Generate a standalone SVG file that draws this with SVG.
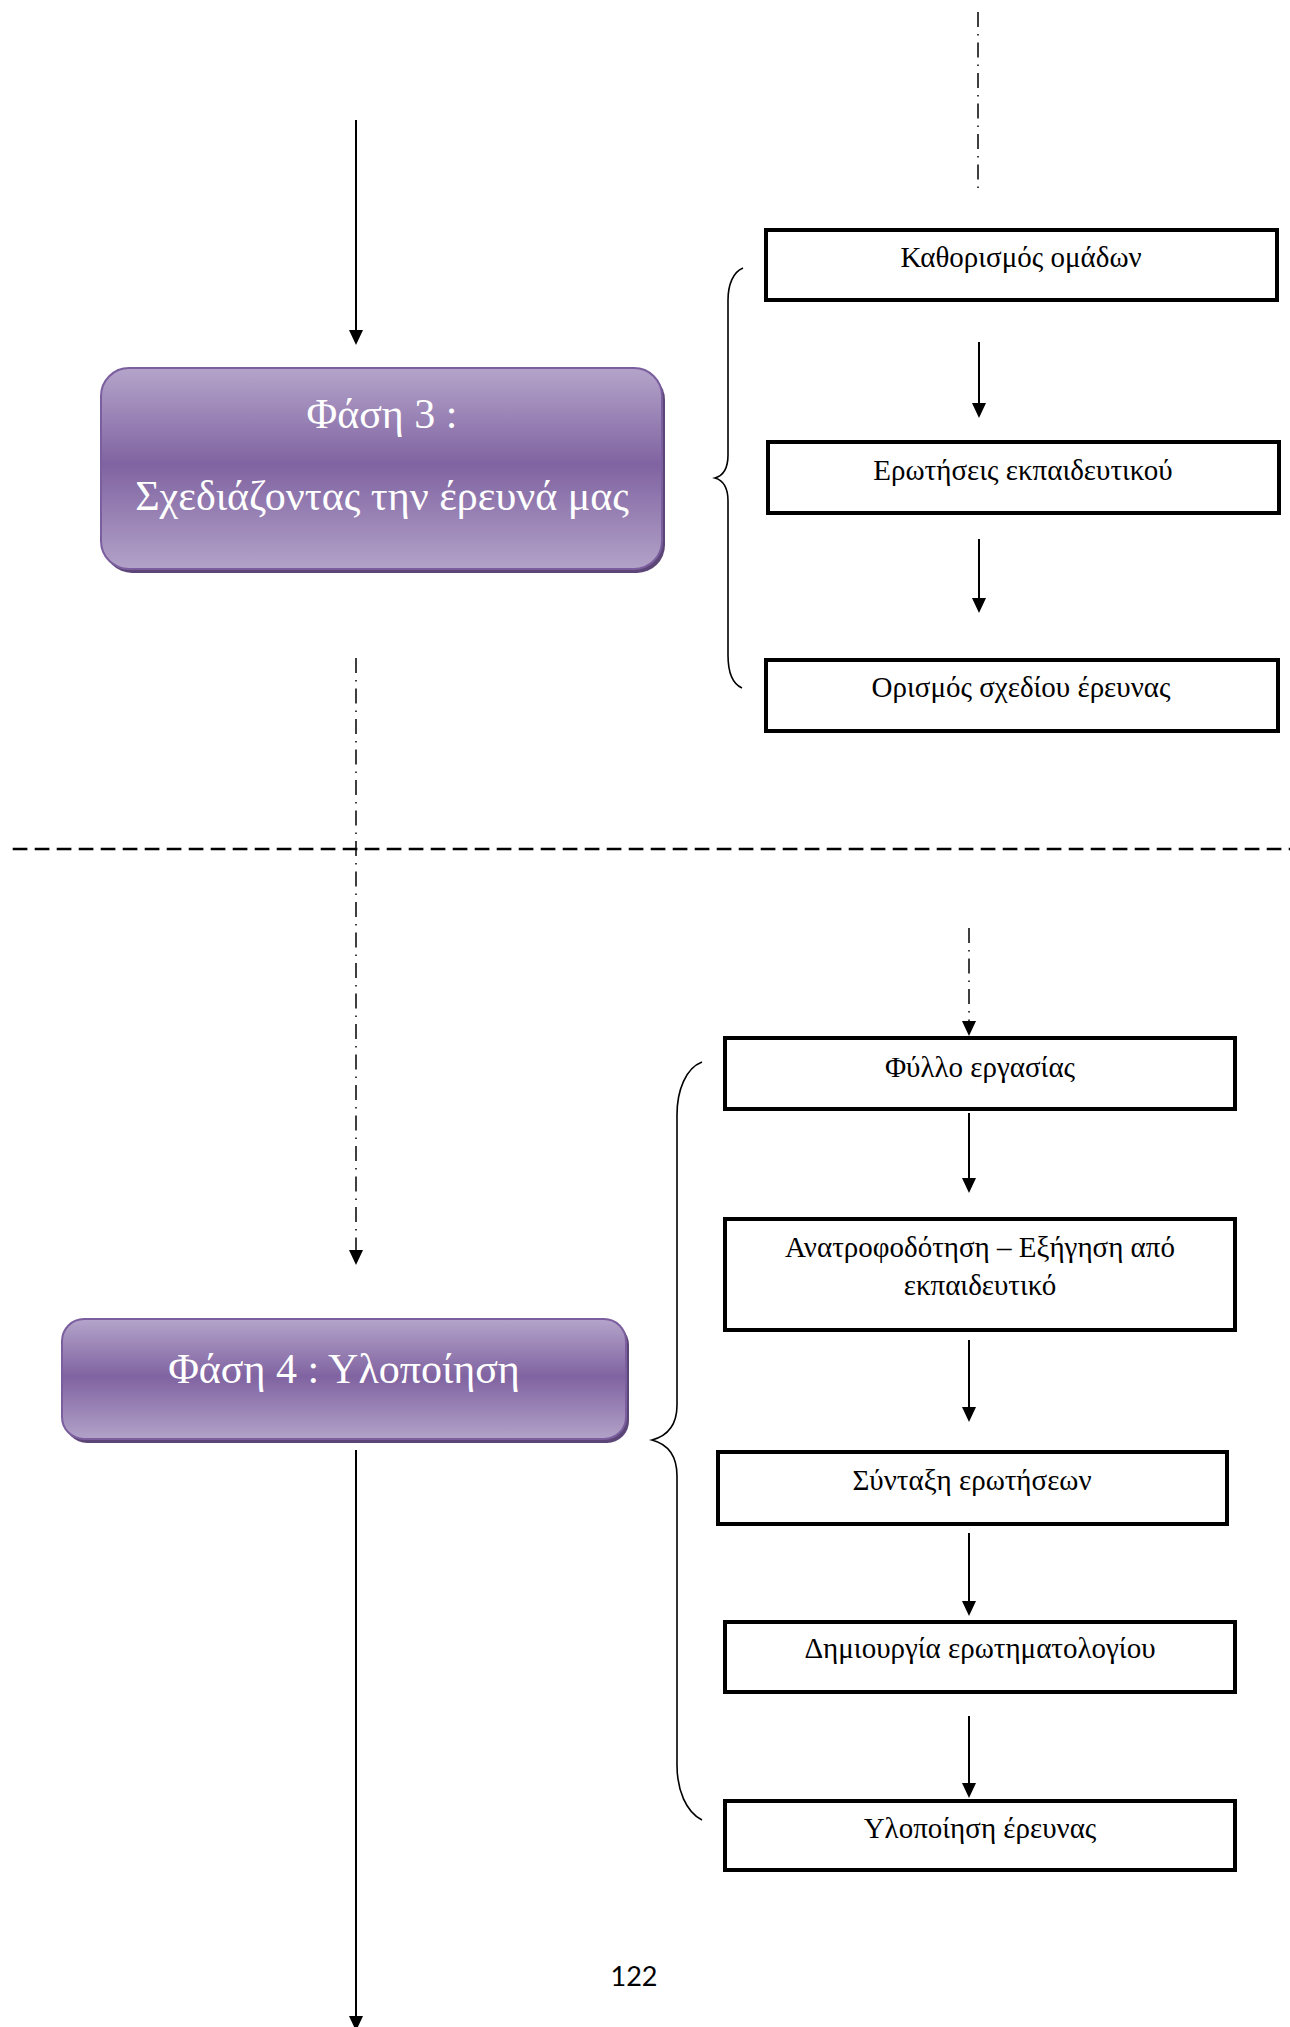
<svg xmlns="http://www.w3.org/2000/svg" width="1290" height="2027" viewBox="0 0 1290 2027">
<style>
.box{fill:#ffffff;stroke:#000000;stroke-width:4}
.lbl{font-family:"Liberation Serif","DejaVu Serif",serif;font-size:29px;fill:#000000;text-anchor:middle}
.ph{font-family:"Liberation Serif","DejaVu Serif",serif;font-size:42px;fill:#ffffff;text-anchor:middle}
.phbox{fill:url(#pg);stroke:#7B5E9E;stroke-width:2}
.phsh{fill:#5C4677}
.arr{stroke:#000000;stroke-width:2;fill:none}
.dd{stroke:#000000;stroke-width:1.5;fill:none;stroke-dasharray:15 7 1.5 7}
.brace{stroke:#000000;stroke-width:1.6;fill:none}
.pn{font-family:Lato,"Liberation Sans",sans-serif;font-size:27px;fill:#000000;text-anchor:middle}
</style>
<defs>
<linearGradient id="pg" x1="0" y1="0" x2="0" y2="1">
<stop offset="0" stop-color="#B4A4CA"/>
<stop offset="0.48" stop-color="#8063A1"/>
<stop offset="1" stop-color="#B2A2C8"/>
</linearGradient>
<marker id="ah" viewBox="0 0 15 14" refX="0" refY="7" markerWidth="15" markerHeight="14" markerUnits="userSpaceOnUse" orient="auto">
<path d="M0,0 L15,7 L0,14 z" fill="#000000"/>
</marker>
</defs>
<rect width="1290" height="2027" fill="#ffffff"/>

<g id="connectors">
<line class="arr" x1="356" y1="120" x2="356" y2="330" marker-end="url(#ah)"/>
<line class="dd" x1="978" y1="12" x2="978" y2="194"/>
<line class="arr" x1="979" y1="342" x2="979" y2="403" marker-end="url(#ah)"/>
<line class="arr" x1="979" y1="539" x2="979" y2="598" marker-end="url(#ah)"/>
<line class="dd" x1="356" y1="658" x2="356" y2="1250" marker-end="url(#ah)"/>
<line stroke="#000000" stroke-width="2.3" stroke-dasharray="14.7 7.3" x1="12.7" y1="849" x2="1290" y2="849"/>
<line class="dd" x1="969" y1="928" x2="969" y2="1021" marker-end="url(#ah)"/>
<line class="arr" x1="969" y1="1113" x2="969" y2="1178" marker-end="url(#ah)"/>
<line class="arr" x1="969" y1="1340" x2="969" y2="1407" marker-end="url(#ah)"/>
<line class="arr" x1="969" y1="1533" x2="969" y2="1601" marker-end="url(#ah)"/>
<line class="arr" x1="969" y1="1716" x2="969" y2="1783" marker-end="url(#ah)"/>
<line class="arr" x1="356" y1="1450" x2="356" y2="2016" marker-end="url(#ah)"/>
<path class="brace" d="M743,268 C733,272 728,285 728,300 L728,455 C728,470 722,476 715,478 C722,480 728,486 728,501 L728,655 C728,672 733,684 742,688"/>
<path class="brace" d="M702,1062 C686,1068 677,1090 677,1115 L677,1405 C677,1426 667,1436 652,1440 C667,1444 677,1455 677,1476 L677,1765 C677,1790 686,1812 702,1820"/>
</g>

<g id="phase3">
<rect class="phsh" x="104" y="372" width="561" height="201" rx="28"/>
<rect class="phbox" x="101" y="368" width="561" height="201" rx="28"/>
<text class="ph" x="382" y="428">Φάση 3 :</text>
<text class="ph" x="382" y="510">Σχεδιάζοντας την έρευνά μας</text>
</g>

<g id="phase4">
<rect class="phsh" x="65" y="1323" width="564" height="120" rx="22"/>
<rect class="phbox" x="62" y="1319" width="564" height="120" rx="22"/>
<text class="ph" x="344" y="1383">Φάση 4 : Υλοποίηση</text>
</g>

<g id="n1">
<rect class="box" x="766" y="230" width="511" height="70"/>
<text class="lbl" x="1021" y="267">Καθορισμός ομάδων</text>
</g>
<g id="n2">
<rect class="box" x="768" y="442" width="511" height="71"/>
<text class="lbl" x="1023" y="480">Ερωτήσεις εκπαιδευτικού</text>
</g>
<g id="n3">
<rect class="box" x="766" y="660" width="512" height="71"/>
<text class="lbl" x="1021" y="697">Ορισμός σχεδίου έρευνας</text>
</g>

<g id="m1">
<rect class="box" x="725" y="1038" width="510" height="71"/>
<text class="lbl" x="980" y="1077">Φύλλο εργασίας</text>
</g>
<g id="m2">
<rect class="box" x="725" y="1219" width="510" height="111"/>
<text class="lbl" x="980" y="1257">Ανατροφοδότηση – Εξήγηση από</text>
<text class="lbl" x="980" y="1295">εκπαιδευτικό</text>
</g>
<g id="m3">
<rect class="box" x="718" y="1452" width="509" height="72"/>
<text class="lbl" x="972" y="1490">Σύνταξη ερωτήσεων</text>
</g>
<g id="m4">
<rect class="box" x="725" y="1622" width="510" height="70"/>
<text class="lbl" x="980" y="1658">Δημιουργία ερωτηματολογίου</text>
</g>
<g id="m5">
<rect class="box" x="725" y="1801" width="510" height="69"/>
<text class="lbl" x="980" y="1838">Υλοποίηση έρευνας</text>
</g>

<text class="pn" x="634" y="1986">122</text>
</svg>
